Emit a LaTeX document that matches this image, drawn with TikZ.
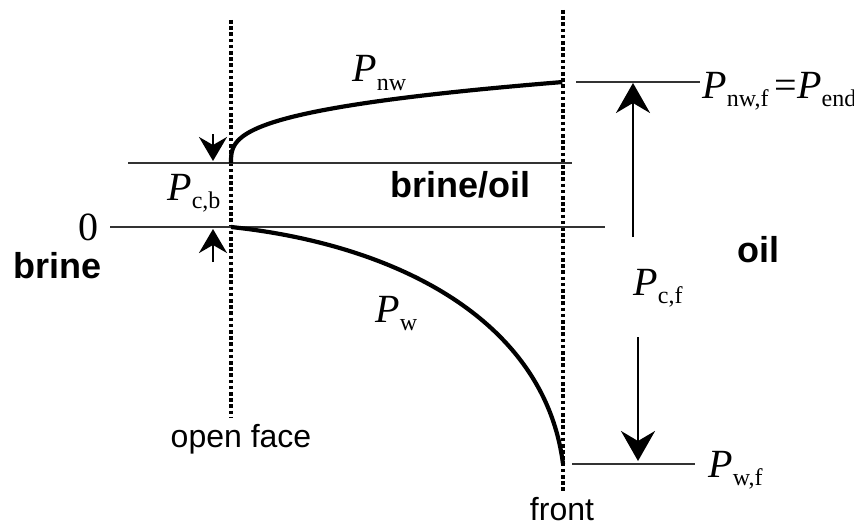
\documentclass[tikz,border=0pt]{standalone}
\usepackage{fontspec}
\setmainfont{Liberation Serif}
\setsansfont{Liberation Sans}
\usetikzlibrary{arrows.meta}
\newcommand{\Psub}[1]{\textit{P}\raisebox{-0.45ex}{\fontsize{12}{12}\selectfont #1}}

\begin{document}
\begin{tikzpicture}[x=0.5pt,y=-0.5pt,
  guide/.style={line width=1.6pt,dash pattern=on 1.8pt off 1.3pt},
  level/.style={line width=0.8pt,black!80},
  curve/.style={line width=2.1pt},
  bigarrow/.style={line width=1.3pt,-{Stealth[length=15pt,width=17pt,inset=5pt]}},
  smallarrow/.style={line width=1.3pt,-{Stealth[length=12pt,width=14pt,inset=4pt]}},
  plbl/.style={font=\fontsize{20}{20}\selectfont,inner sep=0pt,anchor=base west},
  slbl/.style={font=\sffamily\bfseries\fontsize{18}{18}\selectfont,inner sep=0pt,anchor=base west},
  tlbl/.style={font=\sffamily\fontsize{16}{16}\selectfont,inner sep=0pt,anchor=base}]
\useasboundingbox (0,0) rectangle (854,524);

% --- open face and front (dotted) ---
\coordinate (face top) at (231,20);
\coordinate (face bot) at (231,418);
\coordinate (front top) at (563,10);
\coordinate (front bot) at (563,492);
\draw[guide] (face top) -- (face bot);
\draw[guide] (front top) -- (front bot);

% --- pressure levels ---
\coordinate (cb left) at (128,163);
\coordinate (cb right) at (572,163);
\coordinate (zero left) at (110,227);
\coordinate (zero right) at (605,227);
\coordinate (nwf left) at (576,82);
\coordinate (nwf right) at (700,82);
\coordinate (wf left) at (572,464);
\coordinate (wf right) at (695,464);
\draw[level] (cb left) -- (cb right);
\draw[level] (zero left) -- (zero right);
\draw[level] (nwf left) -- (nwf right);
\draw[level] (wf left) -- (wf right);

% --- pressure profiles ---
\draw[curve] plot[domain=0:1,samples=60,smooth] ({231+332*\x*\x*\x},{163-81*\x});
\coordinate (w start) at (231,227);
\coordinate (w end) at (563,464);
\draw[curve] (w start) .. controls (400,245) and (545,322) .. (w end);

% --- capillary pressure arrows ---
\coordinate (cf up tail) at (633,237);
\coordinate (cf up tip) at (633,83);
\coordinate (cf down tail) at (638,337);
\coordinate (cf down tip) at (638,461);
\draw[bigarrow] (cf up tail) -- (cf up tip);
\draw[bigarrow] (cf down tail) -- (cf down tip);
\coordinate (cb down tail) at (213,134);
\coordinate (cb down tip) at (213,161);
\coordinate (cb up tail) at (213,262);
\coordinate (cb up tip) at (213,229);
\draw[smallarrow] (cb down tail) -- (cb down tip);
\draw[smallarrow] (cb up tail) -- (cb up tip);

% --- labels ---
\node[plbl] (Pnw) at (352,82) {\Psub{nw}};
\node[plbl] (Pcb) at (167,200) {\Psub{c,b}};
\node[plbl] (Pw) at (375,322) {\Psub{w}};
\node[plbl] (Pcf) at (633,295) {\Psub{c,f}};
\node[plbl] (Pnwf) at (702,98) {\Psub{nw,f}\kern3pt=\Psub{end}};
\node[plbl] (Pwf) at (708,477) {\Psub{w,f}};
\node[plbl,anchor=base] (zero) at (88,240) {0};
\node[slbl] (brine) at (13,278) {brine};
\node[slbl] (brineoil) at (390,197) {brine/oil};
\node[slbl] (oil) at (737,262) {oil};
\node[tlbl] (openface) at (241,447) {open face};
\node[tlbl] (front) at (562,520) {front};
\end{tikzpicture}
\end{document}
